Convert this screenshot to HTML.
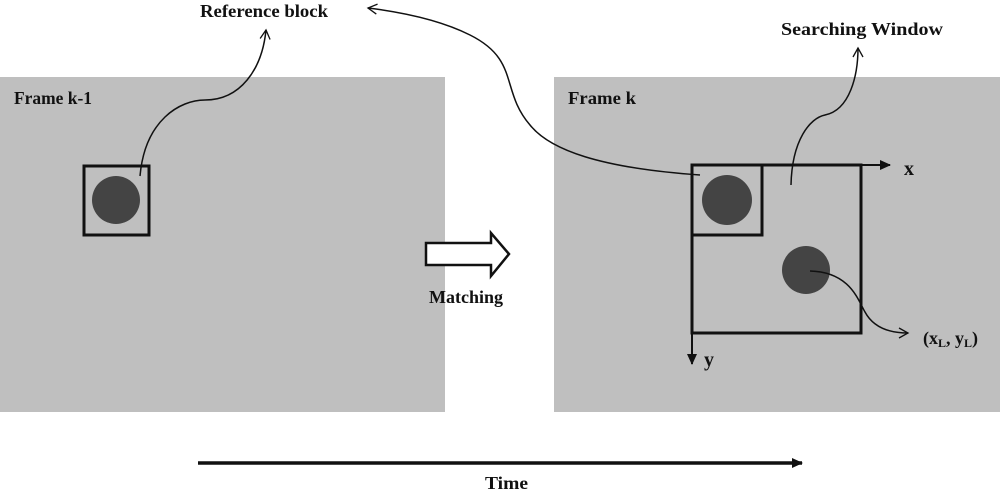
<!DOCTYPE html>
<html><head><style>
html,body{margin:0;padding:0;background:#fff;}
svg{display:block;}
text{font-family:"Liberation Serif",serif;font-weight:bold;fill:#111;}
</style></head><body>
<svg width="1000" height="493" viewBox="0 0 1000 493" xmlns="http://www.w3.org/2000/svg">
<defs>
<marker id="open" markerWidth="12" markerHeight="12" refX="10" refY="6" orient="auto" markerUnits="userSpaceOnUse">
<path d="M1,1 L10,6 L1,11" fill="none" stroke="#111" stroke-width="1.3"/>
</marker>
<marker id="solid" markerWidth="12" markerHeight="12" refX="10" refY="6" orient="auto" markerUnits="userSpaceOnUse">
<path d="M0,1 L11,6 L0,11 Z" fill="#111"/>
</marker>
</defs>
<rect x="0" y="77" width="445" height="335" fill="#bfbfbf"/>
<rect x="554" y="77" width="446" height="335" fill="#bfbfbf"/>
<text x="14" y="104" font-size="18" textLength="78" lengthAdjust="spacingAndGlyphs">Frame k-1</text>
<text x="568" y="104" font-size="18" textLength="68" lengthAdjust="spacingAndGlyphs">Frame k</text>
<rect x="84" y="166" width="65" height="69" fill="none" stroke="#111" stroke-width="3"/>
<circle cx="116" cy="200" r="24" fill="#444"/>
<path d="M140,176 C145,120 180,100 205,100 C240,100 262,70 266,30" fill="none" stroke="#111" stroke-width="1.5" marker-end="url(#open)"/>
<text x="200" y="17" font-size="18" textLength="128" lengthAdjust="spacingAndGlyphs">Reference block</text>
<path d="M426,243 H491 V233 L509,254 L491,276 V265 H426 Z" fill="#fff" stroke="#111" stroke-width="2.5"/>
<text x="429" y="303" font-size="18" textLength="74" lengthAdjust="spacingAndGlyphs">Matching</text>
<rect x="692" y="165" width="169" height="168" fill="none" stroke="#111" stroke-width="3"/>
<path d="M692,235 H762 V165" fill="none" stroke="#111" stroke-width="3"/>
<circle cx="727" cy="200" r="25" fill="#444"/>
<circle cx="806" cy="270" r="24" fill="#444"/>
<line x1="861" y1="165" x2="890" y2="165" stroke="#111" stroke-width="2" marker-end="url(#solid)"/>
<line x1="692" y1="333" x2="692" y2="364" stroke="#111" stroke-width="2" marker-end="url(#solid)"/>
<text x="904" y="175" font-size="20">x</text>
<text x="704" y="366" font-size="20">y</text>
<path d="M810,271 C850,272 858,300 865,312 C872,325 885,333 908,333" fill="none" stroke="#111" stroke-width="1.5" marker-end="url(#open)"/>
<text x="923" y="344" font-size="18">(x<tspan font-size="12" dy="3">L</tspan><tspan dy="-3">, y</tspan><tspan font-size="12" dy="3">L</tspan><tspan dy="-3">)</tspan></text>
<path d="M791,185 C792,140 810,118 825,115 C850,110 858,75 858,48" fill="none" stroke="#111" stroke-width="1.5" marker-end="url(#open)"/>
<text x="781" y="35" font-size="18" textLength="162" lengthAdjust="spacingAndGlyphs">Searching Window</text>
<path d="M700,175 C600,168 550,150 530,125 C500,90 520,60 470,35 C440,20 400,12 368,8" fill="none" stroke="#111" stroke-width="1.5" marker-end="url(#open)"/>
<line x1="198" y1="463" x2="802" y2="463" stroke="#111" stroke-width="3.5" marker-end="url(#solid)"/>
<text x="485" y="489" font-size="18" font-weight="normal" textLength="43" lengthAdjust="spacingAndGlyphs">Time</text>
</svg>
</body></html>
